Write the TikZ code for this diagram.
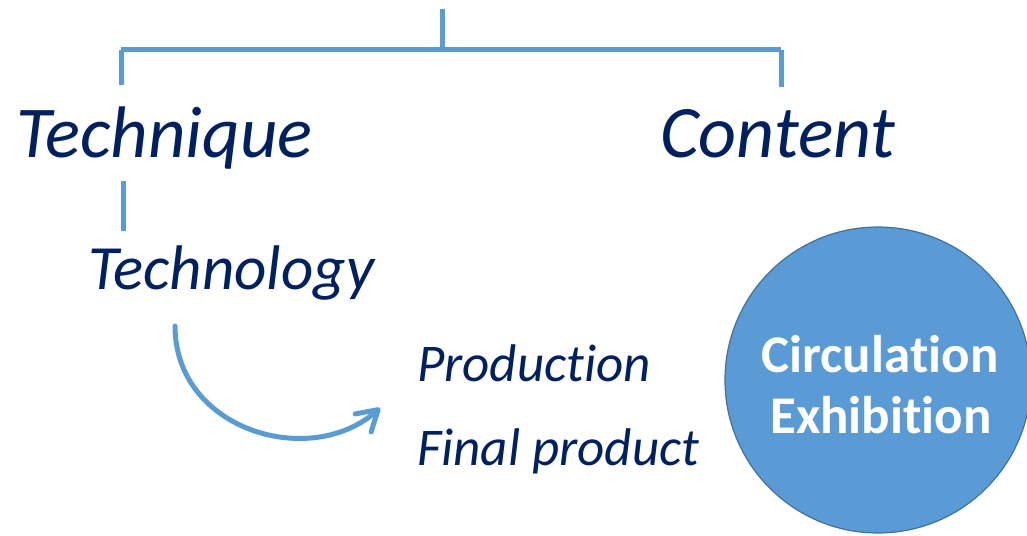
\documentclass[tikz,border=0pt]{standalone}
\usepackage{fontspec}
\setmainfont{Carlito}[Ligatures={NoCommon}]
\usetikzlibrary{arrows.meta}
\definecolor{navy}{HTML}{002060}
\definecolor{lblue}{HTML}{5B9BD5}
\definecolor{dblue}{HTML}{41719C}
\tikzset{
  lbl/.style={inner sep=0pt, anchor=base west, text=navy, font=\itshape},
  ctxt/.style={inner sep=0pt, anchor=base, text=white, font=\bfseries\fontsize{53}{53}\selectfont},
  bline/.style={draw=lblue, line width=5pt},
}
\begin{document}
\begin{tikzpicture}[x=1pt,y=-1pt]
\useasboundingbox (0,0) rectangle (1027,535);
% texts
\node[lbl, font=\itshape\fontsize{73}{73}\selectfont] (tech) at (16,157) {Technique};
\node[lbl, font=\itshape\fontsize{74}{74}\selectfont] (cont) at (660,157) {Content};
\node[lbl, font=\itshape\fontsize{63}{63}\selectfont] (techn) at (88,289) {Technology};
\node[lbl, font=\itshape\fontsize{53}{53}\selectfont] (prod) at (417,381) {Production};
\node[lbl, font=\itshape\fontsize{53}{53}\selectfont] (fin) at (417,465) {Final product};
% circle
\node[circle, fill=lblue, draw=dblue, line width=1.2pt, minimum size=306pt, inner sep=0pt] (circ) at (878,380) {};
\node[ctxt] (c1) at (880,372) {Circulation};
\node[ctxt] (c2) at (881,433) {Exhibition};
% bracket
\coordinate (top) at (442,9);
\coordinate (mid) at (442,50);
\coordinate (lft) at (121,50);
\coordinate (rgt) at (781,50);
\draw[bline] (top) -- (mid);
\draw[bline] (lft) -- (rgt);
\draw[bline] (lft) -- (121,85);
\draw[bline] (rgt) -- (781,87);
% tick between Technique and Technology
\coordinate (t1) at (123,181);
\coordinate (t2) at (123,231);
\draw[bline] (t1) -- (t2);
% curved arrow
\coordinate (a1) at (175,326);
\coordinate (a2) at (380,408);
\draw[draw=lblue, line width=5pt, line cap=round, -{Straight Barb[length=20pt,width=24pt,round]}]
  (a1) .. controls (175,430) and (310,470) .. (a2);
\end{tikzpicture}
\end{document}
